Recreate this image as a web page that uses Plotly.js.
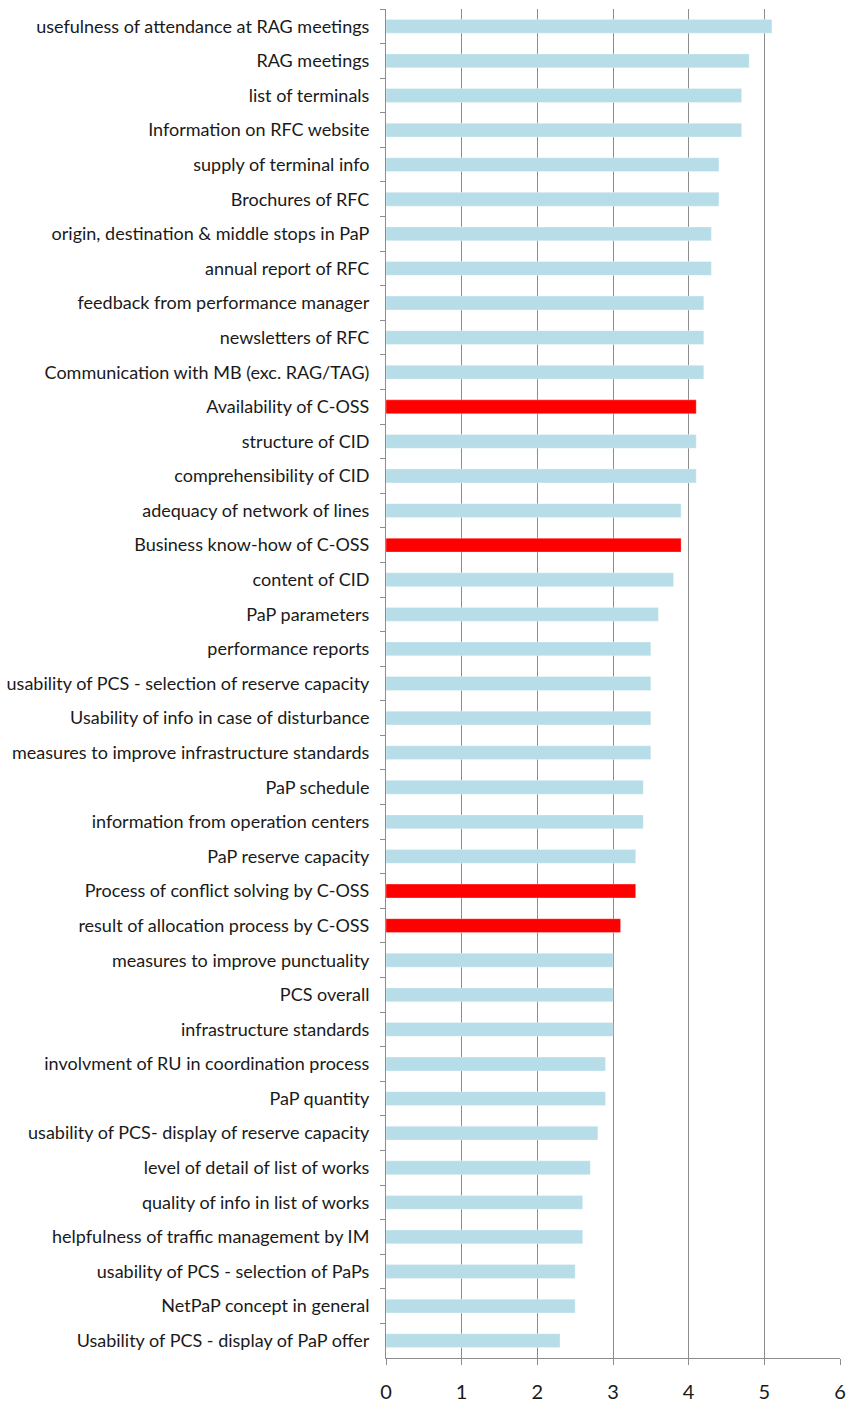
<!DOCTYPE html>
<html>
<head>
<meta charset="utf-8">
<script src="https://cdn.plot.ly/plotly-3.0.1.min.js"></script>
<style>html,body{margin:0;padding:0;background:#fff;}#chart{width:846px;height:1404px;}</style>
</head>
<body>
<div id="chart"></div>
<script>
const categories = [
  "usefulness of attendance at RAG meetings",
  "RAG meetings",
  "list of terminals",
  "Information on RFC website",
  "supply of terminal info",
  "Brochures of RFC",
  "origin, destination & middle stops in PaP",
  "annual report of RFC",
  "feedback from performance manager",
  "newsletters of RFC",
  "Communication with MB (exc. RAG/TAG)",
  "Availability of C-OSS",
  "structure of CID",
  "comprehensibility of CID",
  "adequacy of network of lines",
  "Business know-how of C-OSS",
  "content of CID",
  "PaP parameters",
  "performance reports",
  "usability of PCS - selection of reserve capacity",
  "Usability of info in case of disturbance",
  "measures to improve infrastructure standards",
  "PaP schedule",
  "information from operation centers",
  "PaP reserve capacity",
  "Process of conflict solving by C-OSS",
  "result of allocation process by C-OSS",
  "measures to improve punctuality",
  "PCS overall",
  "infrastructure standards",
  "involvment of RU in coordination process",
  "PaP quantity",
  "usability of PCS- display of reserve capacity",
  "level of detail of list of works",
  "quality of info in list of works",
  "helpfulness of traffic management by IM",
  "usability of PCS - selection of PaPs",
  "NetPaP concept in general",
  "Usability of PCS - display of PaP offer"
];
const values = [
  5.1, 4.8, 4.7, 4.7, 4.4, 4.4, 4.3, 4.3, 4.2, 4.2,
  4.2, 4.1, 4.1, 4.1, 3.9, 3.9, 3.8, 3.6, 3.5, 3.5,
  3.5, 3.5, 3.4, 3.4, 3.3, 3.3, 3.1, 3.0, 3.0, 3.0,
  2.9, 2.9, 2.8, 2.7, 2.6, 2.6, 2.5, 2.5, 2.3
];
const highlighted = [
  "Availability of C-OSS",
  "Business know-how of C-OSS",
  "Process of conflict solving by C-OSS",
  "result of allocation process by C-OSS"
];
const xTicks = [0, 1, 2, 3, 4, 5, 6];

const colors = categories.map(c => highlighted.includes(c) ? "#ff0000" : "#b7dde8");

const font = "Lato, sans-serif";

Plotly.newPlot("chart", [{
  type: "bar",
  orientation: "h",
  y: categories,
  x: values,
  marker: {color: colors, line: {color: "rgba(255,255,255,0.6)", width: 0.5}},
  hoverinfo: "x+y"
}], {
  width: 846,
  height: 1404,
  margin: {l: 386, r: 6, t: 9, b: 46},
  paper_bgcolor: "#fff",
  plot_bgcolor: "#fff",
  showlegend: false,
  bargap: 0.6,
  font: {family: font, size: 18, color: "#1a1a1a"},
  xaxis: {
    range: [0, 6],
    tickvals: xTicks,
    ticktext: xTicks.map(String),
    showgrid: true,
    gridcolor: "#8c8c8c",
    gridwidth: 1,
    zeroline: false,
    showline: true,
    linecolor: "#8c8c8c",
    linewidth: 1,
    ticks: "outside",
    ticklen: 6,
    tickcolor: "#8c8c8c",
    tickfont: {family: font, size: 20, color: "#1a1a1a"},
    ticklabelstandoff: 10,
    fixedrange: true
  },
  yaxis: {
    type: "category",
    autorange: "reversed",
    showline: true,
    linecolor: "#8c8c8c",
    linewidth: 1,
    ticks: "outside",
    tickson: "boundaries",
    ticklen: 5,
    tickcolor: "#8c8c8c",
    showgrid: false,
    tickfont: {family: font, size: 18, color: "#1a1a1a"},
    ticklabelstandoff: 12,
    fixedrange: true
  }
}, {displayModeBar: false, staticPlot: true});
</script>
</body>
</html>
